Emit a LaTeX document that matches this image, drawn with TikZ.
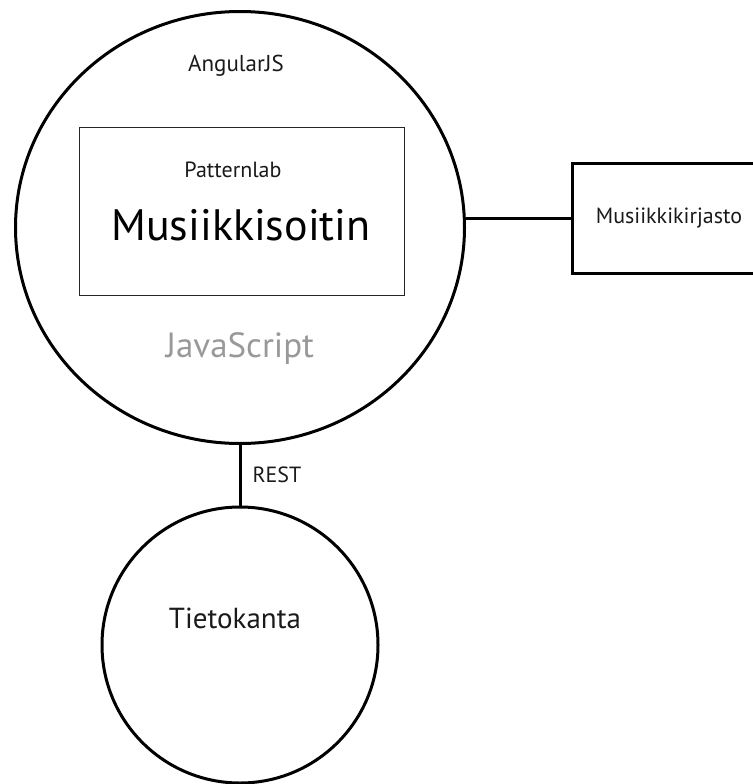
\documentclass[tikz,border=0pt]{standalone}
\usepackage{fontspec}
\setmainfont{PT Sans}
\usepackage{xcolor}
\definecolor{ink}{HTML}{1A1A1A}
\definecolor{jsgrey}{HTML}{999999}
\usetikzlibrary{positioning,shapes.geometric}
\tikzset{
  appcirc/.style={draw=black,line width=3pt,ellipse,inner sep=0pt,
    minimum width=449pt,minimum height=432pt},
  dbcirc/.style={draw=black,line width=3pt,circle,inner sep=0pt,minimum size=276pt},
  innerbox/.style={draw=black!85,line width=1.3pt,inner sep=0pt,
    minimum width=325pt,minimum height=168pt},
  libbox/.style={draw=black,line width=3pt,inner sep=0pt,
    minimum width=194pt,minimum height=110pt},
  link/.style={line width=3pt,black},
  lbl/.style={font=\fontsize{22}{26}\selectfont,text=ink,inner sep=0pt},
  bigtxt/.style={font=\fontsize{44}{50}\selectfont,text=black,inner sep=0pt},
  midtxt/.style={font=\fontsize{30}{36}\selectfont,inner sep=0pt}}

\begin{document}
\begin{tikzpicture}[x=1pt,y=-1pt]
  \useasboundingbox (0,0) rectangle (752,784);
  % main circle with player box
  \node[appcirc] (app) at (240,227.5) {};
  \node[innerbox] (player) at (242,211.5) {};
  \node[lbl,font=\fontsize{23}{26}\selectfont,anchor=base] (angular) at (236,71) {AngularJS};
  \node[lbl,anchor=base] (pattern) at (233,177) {Patternlab};
  \node[bigtxt,anchor=base] (soitin) at (241,240) {Musiikkisoitin};
  \node[midtxt,font=\fontsize{35}{40}\selectfont,text=jsgrey,anchor=base] (js) at (240,357) {JavaScript};
  % library and database
  \node[libbox] (lib) at (669,218.5) {};
  \node[lbl] (libtxt) at (669,218.5) {Musiikkikirjasto};
  \node[dbcirc] (db) at (240,645) {};
  \node[midtxt,font=\fontsize{29}{34}\selectfont,text=ink,anchor=base] (dbtxt) at (235,628) {Tietokanta};
  \draw[link] (lib.west -| app.east) -- (lib.west);
  \draw[link] (app.south) -- node[lbl,right=11pt] (rest) {REST} (db.north);
\end{tikzpicture}
\end{document}
